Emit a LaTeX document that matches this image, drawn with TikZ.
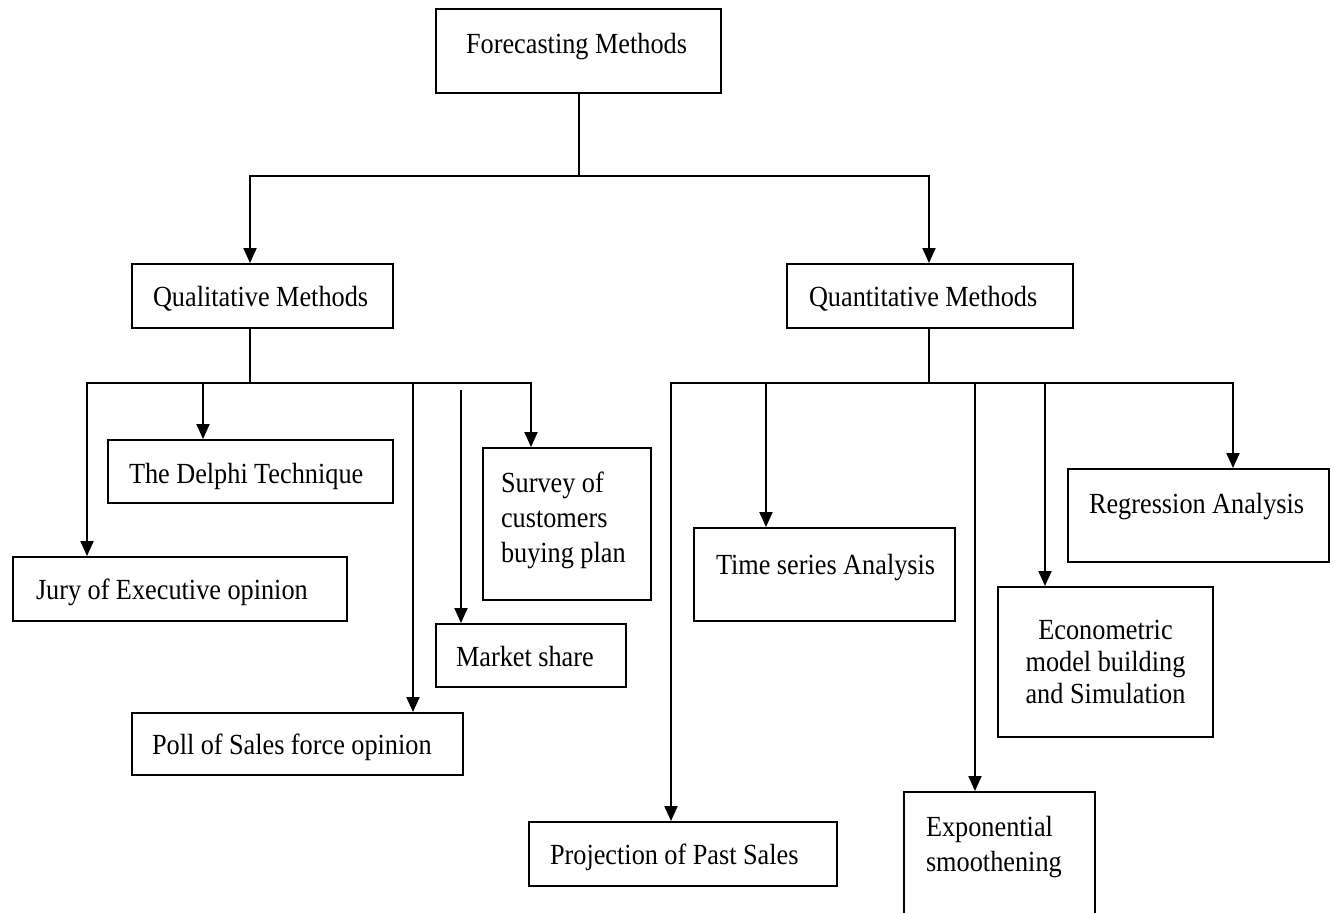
\documentclass[tikz,border=0pt]{standalone}
\usepackage{fontspec}
\setmainfont{Liberation Serif}[FakeStretch=0.9]
\usepackage{tikz}
\usetikzlibrary{arrows.meta}

\begin{document}
\begin{tikzpicture}[
    x=0.5pt, y=-0.5pt,
    mbox/.style={
        rectangle,
        draw=black,
        line width=1pt,
        anchor=north west,
        align=left,
        inner xsep=10pt,
        inner ysep=0pt,
        font=\fontsize{14.6}{17.5}\selectfont,
        execute at begin node={\spaceskip=0.22em plus 0.05em\relax}
    },
    link/.style={
        line width=1pt,
        line cap=rect,
        black
    },
    arrow/.style={
        -{Triangle[length=7.5pt,width=6.5pt]},
        line width=1pt,
        black
    }
]

% Frame
\fill[white] (0,0) rectangle (1334,912);
\useasboundingbox (0,0) rectangle (1334,912);
\clip (0,0) rectangle (1334,912);

% Root
\node[mbox, inner xsep=15pt, text width=112.5pt, text height=22pt, text depth=20pt] (forecast) at (435,8) {\mbox{Forecasting Methods}};

% Two families
\node[mbox, inner xsep=10.5pt, text width=109.5pt, text height=21pt, text depth=11pt] (qual) at (131,263) {\mbox{Qualitative Methods}};
\node[mbox, inner xsep=11pt, text width=121pt, text height=21pt, text depth=11pt] (quant) at (786,263) {\mbox{Quantitative Methods}};

% Qualitative methods
\node[mbox, inner xsep=10.5pt, text width=121.5pt, text height=21.5pt, text depth=10pt] (delphi) at (107,439) {\mbox{The Delphi Technique}};
\node[mbox, inner xsep=11.5pt, text width=144pt, text height=21pt, text depth=11pt] (jury) at (12,556) {\mbox{Jury of Executive opinion}};
\node[mbox, inner xsep=9pt, text width=66pt, text height=22pt, text depth=54pt] (survey) at (482,447) {Survey of\\customers\\buying plan};
\node[mbox, text width=75pt, text height=21pt, text depth=10.5pt] (market) at (435,623) {\mbox{Market share}};
\node[mbox, text width=145.5pt, text height=20.5pt, text depth=10.5pt] (poll) at (131,712) {\mbox{Poll of Sales force opinion}};

% Quantitative methods
\node[mbox, inner xsep=10.5pt, text width=133pt, text height=21pt, text depth=11pt] (projection) at (528,821) {\mbox{Projection of Past Sales}};
\node[mbox, inner xsep=11pt, text width=108.5pt, text height=23pt, text depth=23.5pt] (timeser) at (693,527) {\mbox{Time series Analysis}};
\node[mbox, inner xsep=10.5pt, text width=109.5pt, text height=22pt, text depth=24.5pt] (regression) at (1067,468) {\mbox{Regression Analysis}};
\node[mbox, align=center, text width=87.5pt, text height=26pt, text depth=49pt, font=\fontsize{14.6}{16}\selectfont] (econ) at (997,586) {Econometric\\model building\\and Simulation};
\node[mbox, inner xsep=11pt, text width=73.5pt, text height=22pt, text depth=62.5pt] (expo) at (903,791) {Exponential\\smoothening};

% Arrows from the root
\coordinate (qual-in) at (250,176);
\coordinate (quant-in) at (929,176);
\draw[arrow] (forecast.south) |- (qual-in) -- (qual-in |- qual.north);
\draw[arrow] (forecast.south) |- (quant-in) -- (quant-in |- quant.north);

% Qualitative branch
\coordinate (qual-bus) at (250,383);
\draw[link] (qual-bus |- qual.south) -- (qual-bus);
\foreach \n/\x in {jury/87,delphi/203,poll/413,survey/531}
    \coordinate (\n-in) at (\x,383);
\draw[link] (jury-in) -- (survey-in);
\foreach \n in {jury,delphi,poll,survey}
    \draw[arrow] (\n-in) -- (\n-in |- \n.north);
\coordinate (market-in) at (461,390);
\draw[arrow] (market-in) -- (market-in |- market.north);

% Quantitative branch
\coordinate (quant-bus) at (929,383);
\draw[link] (quant-bus |- quant.south) -- (quant-bus);
\foreach \n/\x in {projection/671,timeser/766,expo/975,econ/1045,regression/1233}
    \coordinate (\n-in) at (\x,383);
\draw[link] (projection-in) -- (regression-in);
\foreach \n in {projection,timeser,expo,econ,regression}
    \draw[arrow] (\n-in) -- (\n-in |- \n.north);

\end{tikzpicture}
\end{document}
